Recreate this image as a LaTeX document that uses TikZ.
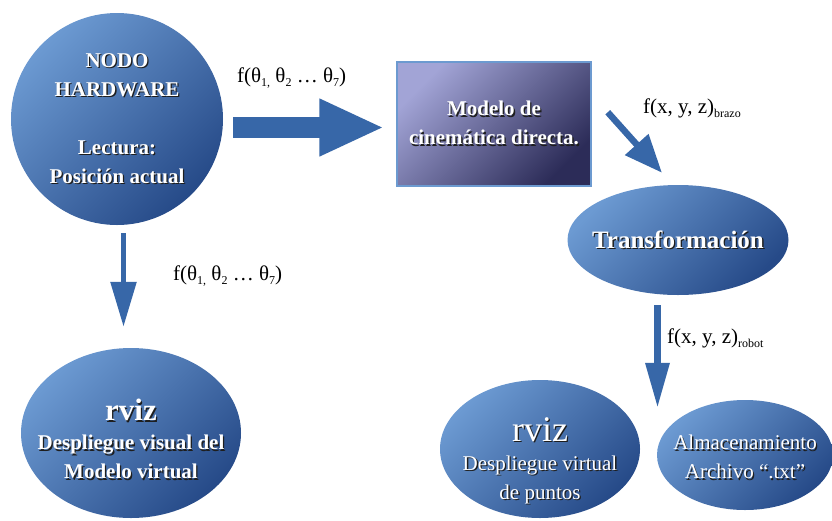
\documentclass[tikz,border=0pt]{standalone}
\usepackage{fontspec}
\setmainfont{Liberation Serif}
\usetikzlibrary{shapes.geometric,arrows.meta,calc}
\definecolor{ellL}{HTML}{6C9AD2}
\definecolor{ellD}{HTML}{264A88}
\definecolor{boxL}{HTML}{A2A4D6}
\definecolor{boxD}{HTML}{2C2C58}
\definecolor{boxB}{HTML}{6C9AD0}
\definecolor{arr}{HTML}{3767A8}
\definecolor{shd}{HTML}{1E1E1E}
\newcommand\shtxt[1]{\rlap{\kern1.3pt\raisebox{-1.3pt}{\color{shd}#1}}{\color{white}#1}}
\newcommand\sbt[1]{\raisebox{-4pt}{\fontsize{12}{12}\selectfont #1}}
\begin{document}
\begin{tikzpicture}[x=1pt,y=-1pt,
  blob/.style={shading=axis,top color=ellL,bottom color=ellD,shading angle=45,
    inner xsep=-40pt,inner ysep=-20pt,align=center},
  ell/.style={blob,shape=ellipse},
  bigtxt/.style={font=\fontsize{21}{29}\selectfont\bfseries},
  regtxt/.style={font=\fontsize{21}{29}\selectfont},
  lbl/.style={anchor=base west,inner sep=0pt,font=\fontsize{21}{26}\selectfont},
  bigarrow/.style={draw=arr,line width=21pt,-{Triangle[length=65pt,width=53pt]}},
  thinarrow/.style={draw=arr,line width=6pt,-{Triangle[length=45pt,width=24pt]}}
]
\useasboundingbox (0,0) rectangle (832,520);
% nodes
\node[blob,shape=circle,minimum size=212pt,bigtxt] (hw) at (117,119)
  {\shtxt{NODO}\\\shtxt{HARDWARE}\\[29pt]\shtxt{Lectura:}\\\shtxt{Posición actual}};
\node[shading=axis,top color=boxL,bottom color=boxD,shading angle=45,
  draw=boxB,line width=1.5pt,minimum width=194pt,minimum height=124pt,
  inner sep=0pt,align=center,bigtxt] (box) at (494,124)
  {\shtxt{Modelo de}\\\shtxt{cinemática directa.}};
\node[ell,minimum width=221pt,minimum height=110pt,
  font=\fontsize{25}{30}\selectfont\bfseries] (trans) at (678,240)
  {\shtxt{Transformación}};
\node[ell,minimum width=220pt,minimum height=170pt,bigtxt] (rvizL) at (131,433)
  {{\fontsize{31}{34}\selectfont\rule{0pt}{35.5pt}\shtxt{rviz}}\\\shtxt{Despliegue visual del}\\\shtxt{Modelo virtual}};
\node[ell,minimum width=200pt,minimum height=138pt,regtxt] (rvizR) at (540,449)
  {{\fontsize{36}{36}\selectfont\rule{0pt}{48pt}\shtxt{rviz}}\\\shtxt{Despliegue virtual}\\\shtxt{de puntos}};
\node[ell,minimum width=176pt,minimum height=110pt,regtxt] (alm) at (745,455)
  {\rule{0pt}{20.5pt}\shtxt{Almacenamiento}\\\shtxt{Archivo “.txt”}};
% connectors
\coordinate (a1s) at ([shift={(10pt,-8.5pt)}]hw.east);
\draw[bigarrow] (a1s) -- ([xshift=-12pt]a1s -| box.west);
\coordinate (a2s) at ([shift={(6.5pt,-8pt)}]hw.south);
\draw[thinarrow,line width=5.5pt,-{Triangle[length=45pt,width=25pt]}] (a2s) -- ([yshift=21pt]a2s |- rvizL.north);
\draw[thinarrow,line width=6.5pt,-{Triangle[length=38pt,width=30pt]}]
  ([shift={(16pt,-51pt)}]box.north east) -- ([shift={(-16pt,12pt)}]trans.north);
\coordinate (a4s) at ([shift={(-20.5pt,-10pt)}]trans.south);
\draw[thinarrow,line width=6.5pt,-{Triangle[length=45pt,width=23pt]}] (a4s) -- ([yshift=-8pt]a4s |- alm.north);
% labels
\node[lbl] (l1) at (237,82) {f(θ\sbt{1,} θ\sbt{2} … θ\sbt{7})};
\node[lbl] (l2) at (173,280) {f(θ\sbt{1,} θ\sbt{2} … θ\sbt{7})};
\node[lbl] (l3) at (643,113) {f(x, y, z)\sbt{brazo}};
\node[lbl] (l4) at (667,343) {f(x, y, z)\sbt{robot}};
\end{tikzpicture}
\end{document}
